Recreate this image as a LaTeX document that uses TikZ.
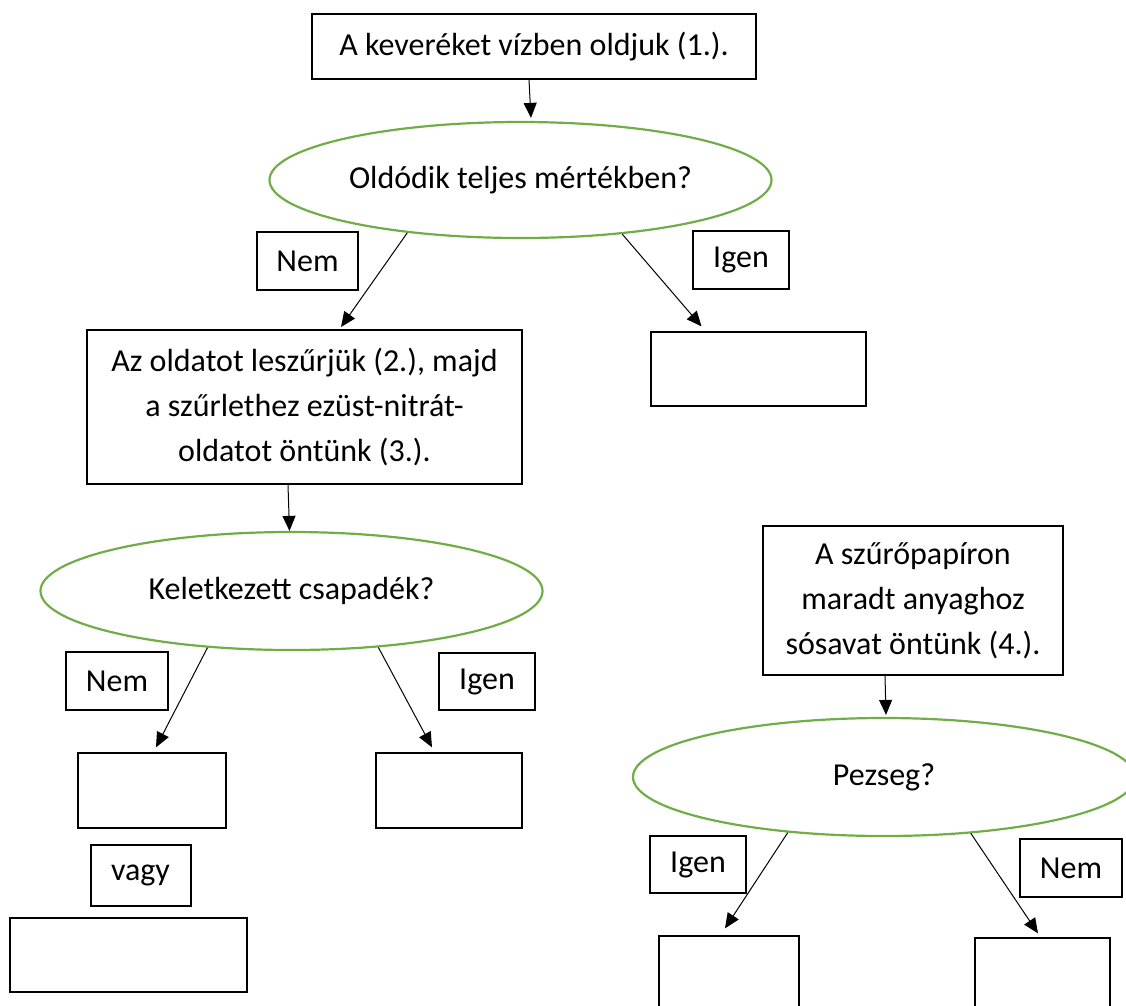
\documentclass[tikz,border=0pt]{standalone}
\usepackage{fontspec}
\setmainfont{Carlito}
\usetikzlibrary{shapes.geometric,arrows.meta}
\definecolor{qgreen}{HTML}{70AD47}
\tikzset{
  >={Triangle[length=15pt,width=13pt]},
}
\tikzstyle{every node}=[font=\fontsize{32}{45}\selectfont]
\tikzstyle{textbox}=[draw,line width=2pt,align=center,inner sep=0pt]
\tikzstyle{labelbox}=[draw,line width=1.3pt,inner sep=0pt]
\tikzstyle{blankbox}=[draw,line width=1.3pt,inner sep=0pt]
\tikzstyle{question}=[ellipse,draw=qgreen,line width=2.2pt,inner sep=0pt,
  minimum width=502pt]
\tikzstyle{conn}=[->,line width=1pt]

\begin{document}
\begin{tikzpicture}[x=1pt,y=-1pt]
        \clip (0,0) rectangle (1126,1005);
        % first step
        \node[textbox,minimum width=444pt,minimum height=65pt] (dissolve)
        at (534,46.5) {A keveréket vízben oldjuk (1.).};
        \node[question,minimum height=116pt] (q1) at (520.5,180)
        {Oldódik teljes mértékben?};
        \node[labelbox,minimum width=101pt,minimum height=58pt] (no1)
        at (307.5,261) {Nem};
        \node[labelbox,minimum width=96pt,minimum height=58pt] (yes1)
        at (741,260) {Igen};
        \node[textbox,minimum width=435pt,minimum height=154pt] (filter)
        at (304.5,407) {Az oldatot leszűrjük (2.), majd\\
        a szűrlethez ezüst-nitrát-\\oldatot öntünk (3.).};
        \node[blankbox,minimum width=215pt,minimum height=74pt] (blank1)
        at (758.5,369) {};
        % silver nitrate branch
        \node[question,minimum height=118pt] (q2) at (291.5,591)
        {Keletkezett csapadék?};
        \node[labelbox,minimum width=102pt,minimum height=58pt] (no2)
        at (117,681) {Nem};
        \node[labelbox,minimum width=96pt,minimum height=57pt] (yes2)
        at (487,681.5) {Igen};
        \node[blankbox,minimum width=148pt,minimum height=75pt] (blank2)
        at (152,790.5) {};
        \node[blankbox,minimum width=146pt,minimum height=75pt] (blank3)
        at (449,790.5) {};
        \node[textbox,minimum width=100pt,minimum height=61pt] (or)
        at (140.5,875) {vagy};
        \node[blankbox,minimum width=237pt,minimum height=74pt] (blank4)
        at (128.5,955) {};
        % hydrochloric acid branch
        \node[textbox,minimum width=300pt,minimum height=149pt] (acid)
        at (913,600.5) {A szűrőpapíron\\maradt anyaghoz\\sósavat öntünk (4.).};
        \node[question,minimum height=118pt] (q3) at (884,777) {Pezseg?};
        \node[labelbox,minimum width=96pt,minimum height=57pt] (yes3)
        at (698,864.5) {Igen};
        \node[labelbox,minimum width=102pt,minimum height=58pt] (no3)
        at (1071,868) {Nem};
        \node[blankbox,minimum width=140pt,minimum height=75pt] (blank5)
        at (729,973.5) {};
        \node[blankbox,minimum width=135pt,minimum height=75pt] (blank6)
        at (1042.5,975.5) {};
        % connectors
        \draw[conn] ([xshift=-5pt]dissolve.south) -- ([xshift=10.5pt,yshift=3pt]q1.north);
        \draw[conn] (q1.205) -- ([xshift=36.5pt,yshift=2pt]filter.north);
        \draw[conn] (q1.332) -- ([xshift=-57pt,yshift=5pt]blank1.north);
        \draw[conn] ([xshift=-16.5pt]filter.south) -- ([xshift=-2pt]q2.north);
        \draw[conn] (q2.214) -- ([xshift=4pt,yshift=5pt]blank2.north);
        \draw[conn] (q2.327) -- ([xshift=-17pt,yshift=5pt]blank3.north);
        \draw[conn] ([xshift=-28pt]acid.south) -- ([xshift=2pt,yshift=2pt]q3.north);
        \draw[conn] (q3.210) -- ([xshift=-4pt,yshift=7pt]blank5.north);
        \draw[conn] (q3.327) -- ([xshift=-4.5pt,yshift=4pt]blank6.north);
      \end{tikzpicture}
\end{document}
